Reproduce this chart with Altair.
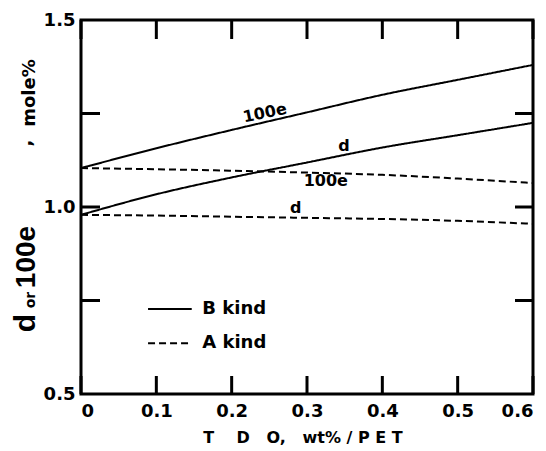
import altair as alt
import pandas as pd

# ---- data ----
x_vals = [0.0, 0.1, 0.2, 0.3, 0.4, 0.5, 0.6]
b_100e = [1.104, 1.157, 1.206, 1.253, 1.300, 1.340, 1.380]
b_d = [0.979, 1.034, 1.079, 1.119, 1.159, 1.192, 1.225]
a_100e = [1.104, 1.101, 1.097, 1.092, 1.086, 1.076, 1.064]
a_d = [0.979, 0.977, 0.974, 0.971, 0.968, 0.963, 0.955]

kinds = ["B kind", "A kind"]
x_ticks = [0.0, 0.1, 0.2, 0.3, 0.4, 0.5, 0.6]
y_minor_ticks = [0.75, 1.0, 1.25]
y_labels = [0.5, 1.0, 1.5]

curve_label_text = ["100e", "d", "100e", "d"]
curve_label_x = [0.244, 0.349, 0.325, 0.285]
curve_label_y = [1.251, 1.163, 1.070, 0.997]
curve_label_angle = [348, 0, 0, 0]

legend_x = [0.089, 0.147]
legend_y = [0.727, 0.636]
legend_text_x = 0.161

W, H = 452, 374
BLACK = "black"

rows = []
for series, kind, ys in [("B 100e", "B kind", b_100e), ("B d", "B kind", b_d),
                         ("A 100e", "A kind", a_100e), ("A d", "A kind", a_d)]:
    for x, y in zip(x_vals, ys):
        rows.append({"x": x, "y": y, "series": series, "kind": kind})
df = pd.DataFrame(rows)

xs = alt.Scale(domain=[0, 0.6], nice=False, zero=False)
ys_ = alt.Scale(domain=[0.5, 1.5], nice=False, zero=False)
dash = alt.Scale(domain=kinds, range=[[1, 0], [7, 4]])

x_axis = alt.Axis(values=x_ticks, title=None,
                  labelExpr="datum.value == 0 ? '0' : format(datum.value, '.1f')",
                  labelPadding=8)
y_axis = alt.Axis(values=y_labels, format=".1f", title=None, labelPadding=6)

lines = alt.Chart(df).mark_line(color=BLACK, strokeWidth=2, interpolate="monotone").encode(
    x=alt.X("x:Q", scale=xs, axis=x_axis),
    y=alt.Y("y:Q", scale=ys_, axis=y_axis),
    detail="series:N",
    strokeDash=alt.StrokeDash("kind:N", scale=dash, legend=None),
)

# inward tick marks on all four sides
xt = pd.DataFrame({"x": x_ticks})
yt = pd.DataFrame({"y": y_minor_ticks})
tick_bottom = alt.Chart(xt).mark_rule(color=BLACK, strokeWidth=3).encode(
    x=alt.X("x:Q", scale=xs, axis=x_axis), y=alt.value(H), y2=alt.value(H - 18))
tick_top = alt.Chart(xt).mark_rule(color=BLACK, strokeWidth=3).encode(
    x=alt.X("x:Q", scale=xs, axis=x_axis), y=alt.value(0), y2=alt.value(19))
tick_left = alt.Chart(yt).mark_rule(color=BLACK, strokeWidth=3).encode(
    y=alt.Y("y:Q", scale=ys_, axis=y_axis), x=alt.value(0), x2=alt.value(19))
tick_right = alt.Chart(yt).mark_rule(color=BLACK, strokeWidth=3).encode(
    y=alt.Y("y:Q", scale=ys_, axis=y_axis), x=alt.value(W), x2=alt.value(W - 18))

# curve labels
lab_df = pd.DataFrame({"t": curve_label_text, "x": curve_label_x, "y": curve_label_y,
                       "a": curve_label_angle})
curve_labels = alt.Chart(lab_df).mark_text(
    font="DejaVu Sans", fontWeight="bold", fontSize=16, color=BLACK, baseline="middle").encode(
    x=alt.X("x:Q", scale=xs, axis=x_axis), y=alt.Y("y:Q", scale=ys_, axis=y_axis),
    text="t:N", angle=alt.Angle("a:Q", scale=None))

# legend
leg_df = pd.DataFrame({"kind": kinds, "x1": [legend_x[0]] * 2, "x2": [legend_x[1]] * 2,
                       "y": legend_y, "tx": [legend_text_x] * 2})
leg_lines = alt.Chart(leg_df).mark_rule(color=BLACK, strokeWidth=2).encode(
    x=alt.X("x1:Q", scale=xs, axis=x_axis), x2="x2:Q", y=alt.Y("y:Q", scale=ys_, axis=y_axis),
    strokeDash=alt.StrokeDash("kind:N", scale=dash, legend=None))
leg_text = alt.Chart(leg_df).mark_text(
    font="DejaVu Sans", fontWeight="bold", fontSize=18, color=BLACK, align="left",
    baseline="middle").encode(
    x=alt.X("tx:Q", scale=xs, axis=x_axis), y=alt.Y("y:Q", scale=ys_, axis=y_axis), text="kind:N")

# y-axis title in mixed sizes (pixel positions relative to the plot area)
big_df = pd.DataFrame({"t": ["d", "100e"], "px": [-46, -46], "py": [303, 237], "s": [30, 28]})
small_df = pd.DataFrame({"t": ["or", ",", "mole%"], "px": [-46, -50, -46], "py": [280, 123, 73],
                         "s": [14, 18, 18]})
ytitle_big = alt.Chart(big_df).mark_text(
    font="Liberation Sans", fontWeight="bold", color=BLACK, angle=270, align="center",
    baseline="alphabetic").encode(
    x=alt.X("px:Q", scale=None), y=alt.Y("py:Q", scale=None), text="t:N",
    size=alt.Size("s:Q", scale=None, legend=None))
ytitle_small = alt.Chart(small_df).mark_text(
    font="DejaVu Sans", fontWeight="bold", color=BLACK, angle=270, align="center",
    baseline="alphabetic").encode(
    x=alt.X("px:Q", scale=None), y=alt.Y("py:Q", scale=None), text="t:N",
    size=alt.Size("s:Q", scale=None, legend=None))

nb = "\u00a0"
xtitle_text = "T" + nb * 4 + "D" + nb * 3 + "O," + nb * 3 + "wt%" + nb + "/" + nb + "P" + nb + "E" + nb + "T"
xtitle_df = pd.DataFrame({"t": [xtitle_text], "px": [222], "py": [423]})
xtitle = alt.Chart(xtitle_df).mark_text(
    font="DejaVu Sans", fontWeight="bold", fontSize=16, color=BLACK, align="center",
    baseline="alphabetic").encode(
    x=alt.X("px:Q", scale=None), y=alt.Y("py:Q", scale=None), text="t:N")

chart = alt.layer(
    lines, tick_bottom, tick_top, tick_left, tick_right, curve_labels, leg_lines, leg_text,
    ytitle_big, ytitle_small, xtitle
).resolve_scale(size="independent").properties(
    width=W, height=H,
    autosize=alt.AutoSizeParams(type="none"),
    padding={"left": 73, "top": 12, "right": 5, "bottom": 55},
    background="white",
).configure_view(
    stroke=BLACK, strokeWidth=3
).configure_axis(
    domain=False, ticks=False, grid=False,
    labelFont="DejaVu Sans", labelFontWeight="bold", labelFontSize=18, labelColor=BLACK,
)

chart.save("out.html", embed_options={"renderer": "svg", "actions": False})
